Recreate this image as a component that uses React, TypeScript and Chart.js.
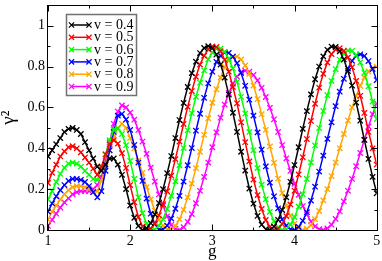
import React, { useEffect, useRef } from 'react';
import { Chart, registerables } from 'chart.js';

Chart.register(...registerables);

const G = [
  1.0, 1.05, 1.1, 1.15, 1.2, 1.25, 1.3, 1.35, 1.4, 1.45, 1.5, 1.55, 1.6, 1.65, 1.7, 1.75, 1.8, 1.85, 1.9, 1.95,
  2.0, 2.05, 2.1, 2.15, 2.2, 2.25, 2.3, 2.35, 2.4, 2.45, 2.5, 2.55, 2.6, 2.65, 2.7, 2.75, 2.8, 2.85, 2.9, 2.95,
  3.0, 3.05, 3.1, 3.15, 3.2, 3.25, 3.3, 3.35, 3.4, 3.45, 3.5, 3.55, 3.6, 3.65, 3.7, 3.75, 3.8, 3.85, 3.9, 3.95,
  4.0, 4.05, 4.1, 4.15, 4.2, 4.25, 4.3, 4.35, 4.4, 4.45, 4.5, 4.55, 4.6, 4.65, 4.7, 4.75, 4.8, 4.85, 4.9, 4.95,
  5.0,
];

const V04 = [
  0.36, 0.39, 0.42, 0.45, 0.48, 0.495, 0.5, 0.49, 0.47, 0.43, 0.39, 0.35, 0.31, 0.29, 0.32, 0.35, 0.35, 0.32, 0.27, 0.2,
  0.12, 0.06, 0.02, 0.0, 0.009, 0.034, 0.076, 0.132, 0.2, 0.278, 0.362, 0.45, 0.538, 0.622, 0.7, 0.768, 0.824, 0.866, 0.891, 0.9,
  0.89, 0.859, 0.81, 0.746, 0.663, 0.574, 0.48, 0.383, 0.291, 0.203, 0.129, 0.069, 0.026, 0.004, 0.001, 0.017, 0.05, 0.098, 0.16, 0.236,
  0.318, 0.405, 0.495, 0.582, 0.664, 0.738, 0.8, 0.85, 0.882, 0.898, 0.896, 0.875, 0.835, 0.778, 0.707, 0.624, 0.535, 0.441, 0.348, 0.26,
  0.18,
];
const V05 = [
  0.23, 0.28, 0.32, 0.36, 0.385, 0.405, 0.41, 0.4, 0.38, 0.355, 0.33, 0.3, 0.27, 0.31, 0.37, 0.42, 0.44, 0.423, 0.376, 0.304,
  0.22, 0.136, 0.064, 0.017, 0.0, 0.008, 0.032, 0.072, 0.126, 0.19, 0.266, 0.347, 0.433, 0.519, 0.603, 0.68, 0.75, 0.81, 0.853, 0.884,
  0.899, 0.896, 0.875, 0.833, 0.775, 0.7, 0.62, 0.527, 0.43, 0.336, 0.247, 0.171, 0.103, 0.049, 0.015, 0.0, 0.006, 0.029, 0.068, 0.125,
  0.192, 0.272, 0.356, 0.445, 0.534, 0.618, 0.697, 0.765, 0.82, 0.861, 0.884, 0.89, 0.877, 0.845, 0.797, 0.73, 0.657, 0.573, 0.48, 0.4,
  0.32,
];
const V06 = [
  0.15, 0.19, 0.235, 0.275, 0.305, 0.325, 0.33, 0.325, 0.31, 0.29, 0.27, 0.25, 0.245, 0.3, 0.37, 0.44, 0.49, 0.498, 0.47, 0.415,
  0.338, 0.25, 0.16, 0.082, 0.03, 0.002, 0.003, 0.021, 0.054, 0.103, 0.167, 0.238, 0.317, 0.401, 0.488, 0.572, 0.652, 0.721, 0.781, 0.836,
  0.869, 0.887, 0.888, 0.872, 0.839, 0.79, 0.725, 0.652, 0.57, 0.48, 0.39, 0.303, 0.222, 0.151, 0.089, 0.043, 0.013, 0.0, 0.005, 0.026,
  0.063, 0.114, 0.176, 0.25, 0.331, 0.414, 0.499, 0.583, 0.66, 0.73, 0.788, 0.833, 0.864, 0.879, 0.877, 0.857, 0.821, 0.77, 0.704, 0.629,
  0.543,
];
const V07 = [
  0.09, 0.13, 0.165, 0.195, 0.22, 0.24, 0.25, 0.25, 0.245, 0.235, 0.215, 0.185, 0.16, 0.19, 0.29, 0.39, 0.48, 0.56, 0.568, 0.541,
  0.49, 0.416, 0.33, 0.24, 0.154, 0.08, 0.029, 0.002, 0.003, 0.021, 0.056, 0.104, 0.167, 0.237, 0.317, 0.401, 0.486, 0.569, 0.647, 0.718,
  0.775, 0.823, 0.853, 0.869, 0.867, 0.849, 0.817, 0.769, 0.706, 0.638, 0.56, 0.478, 0.393, 0.311, 0.232, 0.165, 0.106, 0.052, 0.021, 0.003,
  0.001, 0.015, 0.045, 0.087, 0.144, 0.212, 0.286, 0.364, 0.446, 0.527, 0.606, 0.677, 0.74, 0.79, 0.828, 0.852, 0.86, 0.852, 0.827, 0.788,
  0.734,
];
const V08 = [
  0.05, 0.09, 0.12, 0.15, 0.175, 0.195, 0.21, 0.215, 0.215, 0.21, 0.2, 0.185, 0.19, 0.24, 0.31, 0.39, 0.45, 0.5, 0.52, 0.5,
  0.45, 0.4, 0.34, 0.28, 0.21, 0.15, 0.095, 0.05, 0.02, 0.003, 0.003, 0.02, 0.052, 0.099, 0.16, 0.227, 0.303, 0.383, 0.466, 0.547,
  0.623, 0.689, 0.746, 0.799, 0.83, 0.847, 0.849, 0.835, 0.806, 0.765, 0.707, 0.641, 0.567, 0.49, 0.409, 0.329, 0.251, 0.181, 0.119, 0.07,
  0.031, 0.008, 0.0, 0.006, 0.024, 0.053, 0.093, 0.145, 0.2, 0.264, 0.33, 0.4, 0.47, 0.536, 0.6, 0.656, 0.706, 0.746, 0.776, 0.794,
  0.8,
];
const V09 = [
  0.02, 0.05, 0.08, 0.11, 0.135, 0.155, 0.175, 0.185, 0.19, 0.19, 0.19, 0.2, 0.22, 0.26, 0.34, 0.43, 0.52, 0.58, 0.61, 0.6,
  0.575, 0.54, 0.49, 0.433, 0.373, 0.305, 0.237, 0.174, 0.119, 0.067, 0.025, 0.005, 0.001, 0.014, 0.04, 0.078, 0.131, 0.192, 0.26, 0.33,
  0.405, 0.478, 0.55, 0.614, 0.671, 0.716, 0.751, 0.773, 0.78, 0.775, 0.759, 0.732, 0.696, 0.651, 0.598, 0.542, 0.48, 0.416, 0.351, 0.289,
  0.226, 0.172, 0.117, 0.076, 0.042, 0.018, 0.004, 0.0, 0.008, 0.026, 0.054, 0.091, 0.14, 0.192, 0.25, 0.312, 0.377, 0.442, 0.507, 0.567,
  0.62,
];

const SERIES = [V04, V05, V06, V07, V08, V09];
const LABELS = ['v = 0.4', 'v = 0.5', 'v = 0.6', 'v = 0.7', 'v = 0.8', 'v = 0.9'];
const COLORS = ['#000000', '#ff0000', '#00ff00', '#0000ff', '#ffa500', '#ff00ff'];

const X_TICKS = [1, 2, 3, 4, 5];
const X_MINOR = [1.5, 2.5, 3.5, 4.5];
const Y_TICKS = [0, 0.2, 0.4, 0.6, 0.8, 1];
const Y_MINOR = [0.1, 0.3, 0.5, 0.7, 0.9];
const X_RANGE = [1, 5];
const Y_RANGE = [0, 1.1];

const FONT = "'Liberation Serif', 'Times New Roman', serif";

function drawX(ctx: CanvasRenderingContext2D, cx: number, cy: number, r: number) {
  ctx.beginPath();
  ctx.moveTo(cx - r, cy - r);
  ctx.lineTo(cx + r, cy + r);
  ctx.moveTo(cx - r, cy + r);
  ctx.lineTo(cx + r, cy - r);
  ctx.stroke();
}

const framePlugin = {
  id: 'frameTicks',
  afterDatasetsDraw(chart: any) {
    const { ctx, chartArea: a, scales } = chart;
    const xs = scales.x;
    const ys = scales.y;
    ctx.save();
    ctx.strokeStyle = '#000';
    ctx.lineWidth = 1;
    const L = Math.round(a.left) - 0.5;
    const R = Math.round(a.right) + 0.5;
    const T = Math.round(a.top) + 0.5;
    const B = Math.round(a.bottom) + 0.5;
    ctx.strokeRect(L, T, R - L, B - T);
    const tick = (v: number, len: number) => {
      const px = Math.round(xs.getPixelForValue(v)) + 0.5;
      ctx.beginPath();
      ctx.moveTo(px, B);
      ctx.lineTo(px, B - len);
      ctx.moveTo(px, T);
      ctx.lineTo(px, T + len);
      ctx.stroke();
    };
    const ytick = (v: number, len: number) => {
      const py = Math.round(ys.getPixelForValue(v)) + 0.5;
      ctx.beginPath();
      ctx.moveTo(L, py);
      ctx.lineTo(L + len, py);
      ctx.moveTo(R, py);
      ctx.lineTo(R - len, py);
      ctx.stroke();
    };
    X_TICKS.forEach((v) => tick(v, 6));
    X_MINOR.forEach((v) => tick(v, 3));
    Y_TICKS.forEach((v) => ytick(v, 6));
    Y_MINOR.forEach((v) => ytick(v, 3));
    ctx.restore();
  },
  afterDraw(chart: any) {
    const { ctx, chartArea: a } = chart;
    ctx.save();
    const bx = Math.round(a.left + 18) + 0.5;
    const by = Math.round(a.top + 9) + 0.5;
    const bw = 70;
    const bh = 81;
    ctx.fillStyle = '#ffffff';
    ctx.fillRect(bx, by, bw, bh);
    ctx.strokeStyle = '#707070';
    ctx.lineWidth = 1.5;
    ctx.strokeRect(bx, by, bw, bh);
    ctx.font = `14px ${FONT}`;
    ctx.textBaseline = 'middle';
    ctx.textAlign = 'left';
    chart.data.datasets.forEach((ds: any, i: number) => {
      const yy = by + 10.5 + i * 12.3;
      ctx.strokeStyle = ds.borderColor;
      ctx.lineWidth = 1.5;
      ctx.beginPath();
      ctx.moveTo(bx + 5, yy);
      ctx.lineTo(bx + 22.5, yy);
      ctx.stroke();
      ctx.lineWidth = 1.3;
      drawX(ctx, bx + 5, yy, 2.6);
      drawX(ctx, bx + 22.5, yy, 2.6);
      ctx.fillStyle = '#000';
      ctx.fillText(ds.label, bx + 27.5, yy + 0.5);
    });
    ctx.restore();
  },
};

export default function App() {
  const ref = useRef<HTMLCanvasElement | null>(null);
  useEffect(() => {
    if (!ref.current) return;
    const datasets = SERIES.map((vals, k) => ({
      label: LABELS[k],
      data: vals.map((y, i) => ({ x: G[i], y })),
      borderColor: COLORS[k],
      backgroundColor: COLORS[k],
      borderWidth: 1.5,
      pointStyle: 'crossRot' as const,
      pointRadius: 3.8,
      pointBorderWidth: 1.3,
      pointBorderColor: COLORS[k],
      pointBackgroundColor: COLORS[k],
      tension: 0,
      fill: false,
    }));
    const chart = new Chart(ref.current, {
      type: 'line',
      data: { datasets },
      plugins: [framePlugin],
      options: {
        animation: false,
        responsive: false,
        devicePixelRatio: 1,
        layout: { padding: { left: 0, right: 5, top: 1, bottom: 0 } },
        plugins: { legend: { display: false }, tooltip: { enabled: false } },
        scales: {
          x: {
            type: 'linear',
            min: X_RANGE[0],
            max: X_RANGE[1],
            afterBuildTicks: (s: any) => {
              s.ticks = X_TICKS.map((v) => ({ value: v }));
            },
            afterFit: (s: any) => {
              s.height = 31;
              s.paddingLeft = 0;
              s.paddingRight = 0;
            },
            grid: { display: false, drawTicks: false },
            border: { display: false },
            ticks: {
              color: '#000',
              font: { family: FONT, size: 14 },
              padding: 3,
              maxRotation: 0,
              callback: (v: any) => String(v),
            },
            title: {
              display: true,
              text: 'g',
              color: '#000',
              font: { family: FONT, size: 17, lineHeight: 1.1 },
              padding: { top: 0, bottom: 0 },
            },
          },
          y: {
            type: 'linear',
            min: Y_RANGE[0],
            max: Y_RANGE[1],
            afterBuildTicks: (s: any) => {
              s.ticks = Y_TICKS.map((v) => ({ value: v }));
            },
            afterFit: (s: any) => {
              s.width = 48;
              s.paddingTop = 0;
              s.paddingBottom = 0;
            },
            grid: { display: false, drawTicks: false },
            border: { display: false },
            ticks: {
              color: '#000',
              font: { family: FONT, size: 14 },
              padding: 3,
              callback: (v: any) => String(v),
            },
            title: {
              display: true,
              text: 'γ²',
              color: '#000',
              font: { family: FONT, size: 19, lineHeight: 1 },
              padding: { top: 0, bottom: 0 },
            },
          },
        },
      },
    });
    return () => chart.destroy();
  }, []);
  return (
    <div style={{ position: 'fixed', left: 0, top: 0, width: 382, height: 261, background: '#fff' }}>
      <canvas ref={ref} width={382} height={261} style={{ display: 'block', width: 382, height: 261 }} />
    </div>
  );
}
